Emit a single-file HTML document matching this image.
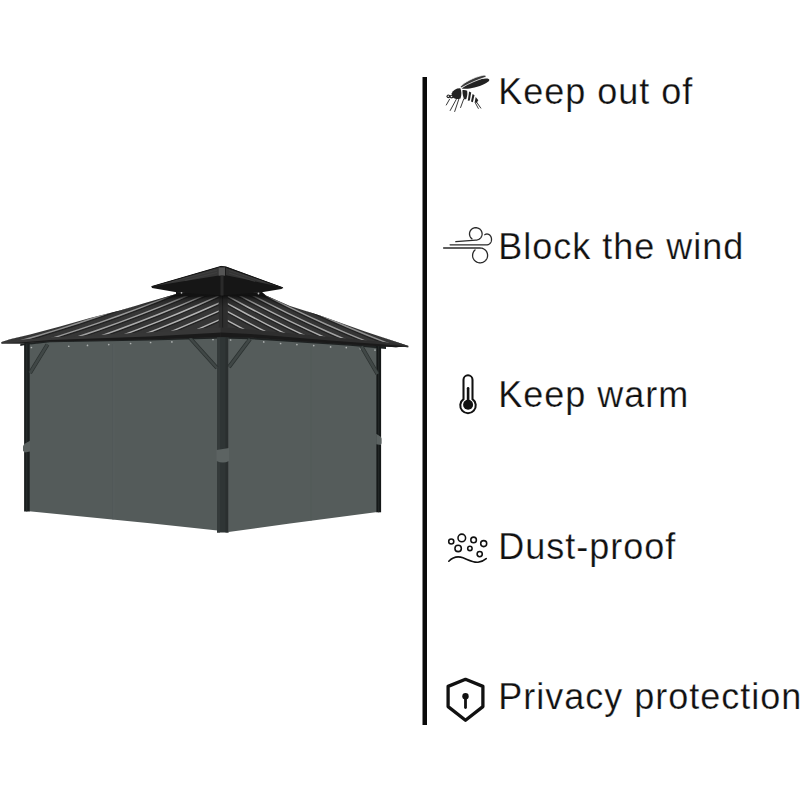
<!DOCTYPE html>
<html><head><meta charset="utf-8">
<style>
html,body{margin:0;padding:0;background:#fff;width:800px;height:800px;overflow:hidden}
.t{position:absolute;left:498.2px;font-family:"Liberation Sans",sans-serif;font-size:36px;line-height:41px;letter-spacing:1.0px;color:#111;white-space:nowrap;-webkit-text-stroke:0.25px #fff}
svg{position:absolute;left:0;top:0}
</style></head><body>
<svg width="800" height="800" viewBox="0 0 800 800">
<rect x="422.5" y="77" width="4.5" height="648" fill="#0a0a0a"/>
<polygon points="28.00,344.50 50.00,341.00 150.00,339.00 217.50,336.80 217.50,530.50 150.00,523.20 29.00,511.20" fill="#545b5a"/>
<polygon points="228.50,337.50 250.00,338.00 350.00,344.60 377.50,347.50 377.50,512.00 290.00,523.50 228.50,532.00" fill="#555c5b"/>
<line x1="112.8" y1="344" x2="112.8" y2="519.5" stroke="#505856" stroke-width="0.7"/>
<line x1="113.8" y1="344" x2="113.8" y2="519.5" stroke="#5a6260" stroke-width="0.6"/>
<line x1="311" y1="346" x2="311" y2="521" stroke="#535b59" stroke-width="0.6"/>
<circle cx="31.4" cy="347.5" r="0.85" fill="#aeb2b1"/>
<circle cx="68.75" cy="346.25" r="0.85" fill="#aeb2b1"/>
<circle cx="87.5" cy="345.4" r="0.85" fill="#aeb2b1"/>
<circle cx="108.75" cy="344.6" r="0.85" fill="#aeb2b1"/>
<circle cx="130.6" cy="343.5" r="0.85" fill="#aeb2b1"/>
<circle cx="150.6" cy="342.5" r="0.85" fill="#aeb2b1"/>
<circle cx="171.9" cy="341.9" r="0.85" fill="#aeb2b1"/>
<circle cx="192" cy="341" r="0.85" fill="#aeb2b1"/>
<circle cx="213" cy="339.6" r="0.85" fill="#aeb2b1"/>
<circle cx="230.6" cy="340" r="0.85" fill="#aeb2b1"/>
<circle cx="247" cy="341" r="0.85" fill="#aeb2b1"/>
<circle cx="263.75" cy="341.9" r="0.85" fill="#aeb2b1"/>
<circle cx="280.6" cy="343.5" r="0.85" fill="#aeb2b1"/>
<circle cx="296.9" cy="344.6" r="0.85" fill="#aeb2b1"/>
<circle cx="313.75" cy="345.6" r="0.85" fill="#aeb2b1"/>
<circle cx="330.6" cy="346.9" r="0.85" fill="#aeb2b1"/>
<circle cx="346.3" cy="347.6" r="0.85" fill="#aeb2b1"/>
<circle cx="360.4" cy="348.7" r="0.85" fill="#aeb2b1"/>
<circle cx="375" cy="350.1" r="0.85" fill="#aeb2b1"/>
<polygon points="20.30,343.60 50.00,340.50 150.00,337.50 221.50,336.00 250.00,337.00 350.00,343.50 386.00,346.00 386.00,349.00 350.00,345.80 250.00,339.20 221.50,338.60 150.00,340.50 50.00,342.30 24.00,345.30 20.30,345.90" fill="#1e2222"/>
<rect x="24.1" y="343.5" width="5.6" height="168" fill="#1b1f1f"/>
<rect x="26.3" y="343.5" width="1" height="168" fill="#2a2f2f"/>
<rect x="217" y="336" width="11.5" height="196.5" fill="#2f3535"/>
<rect x="217" y="336" width="3" height="196.5" fill="#343a3a"/>
<rect x="225.5" y="336" width="3" height="196.5" fill="#2a2f2f"/>
<rect x="376.4" y="346" width="4.7" height="166.3" fill="#151818"/>
<rect x="378.2" y="346" width="1" height="166.3" fill="#252a2a"/>
<polygon points="30.00,440.80 24.20,444.00 23.00,446.20 23.00,450.80 24.60,452.40 30.00,451.60" fill="#5b6261"/>
<path d="M216.5,450 L229,448 L229,461 Q223,464 216.5,461 Z" fill="#5c6362"/>
<polygon points="376.20,433.80 380.80,436.80 381.60,438.80 381.60,443.20 380.80,445.00 376.20,444.30" fill="#5b6261"/>
<line x1="47.5" y1="344.5" x2="30" y2="373" stroke="#2a302f" stroke-width="4.0" stroke-linecap="butt"/>
<line x1="47.5" y1="344.5" x2="30" y2="373" stroke="#404746" stroke-width="2.6" stroke-linecap="butt"/>
<line x1="190" y1="338" x2="217" y2="368" stroke="#2a302f" stroke-width="4.0" stroke-linecap="butt"/>
<line x1="190" y1="338" x2="217" y2="368" stroke="#404746" stroke-width="2.6" stroke-linecap="butt"/>
<line x1="250" y1="339" x2="229" y2="367" stroke="#2a302f" stroke-width="4.0" stroke-linecap="butt"/>
<line x1="250" y1="339" x2="229" y2="367" stroke="#404746" stroke-width="2.6" stroke-linecap="butt"/>
<line x1="361.5" y1="346.5" x2="377.5" y2="374" stroke="#2a302f" stroke-width="4.0" stroke-linecap="butt"/>
<line x1="361.5" y1="346.5" x2="377.5" y2="374" stroke="#404746" stroke-width="2.6" stroke-linecap="butt"/>
<defs>
<clipPath id="cL"><polygon points="1.50,342.00 10.00,339.20 30.00,334.50 60.00,326.50 90.00,318.00 120.00,310.50 145.00,303.00 178.00,293.50 221.50,293.00 221.50,327.00 150.00,332.50 50.00,337.50 20.00,340.00 1.50,342.00"/></clipPath>
<clipPath id="cR"><polygon points="221.50,293.00 260.00,293.00 290.00,306.00 320.00,315.50 365.00,331.50 408.60,346.10 408.20,345.90 382.90,341.90 330.00,337.00 250.00,329.50 221.50,327.00"/></clipPath>
<linearGradient id="gL" x1="0" y1="0" x2="0" y2="1"><stop offset="0" stop-color="#3a3a3a"/><stop offset="1" stop-color="#333"/></linearGradient>
</defs>
<polygon points="1.50,342.00 10.00,339.20 30.00,334.50 60.00,326.50 90.00,318.00 120.00,310.50 145.00,303.00 178.00,293.50 221.50,293.00 222.50,293.00 222.50,330.00 221.50,328.50 150.00,334.00 50.00,339.00 20.00,341.50 1.50,343.50" fill="#363636"/>
<polygon points="220.50,293.00 221.50,293.00 260.00,293.00 290.00,306.00 320.00,315.50 365.00,331.50 408.60,346.10 408.20,347.40 382.90,343.40 330.00,338.50 250.00,331.00 221.50,328.50 220.50,330.00" fill="#353535"/>
<clipPath id="cL2"><polygon points="1.50,342.00 10.00,339.20 30.00,334.50 60.00,326.50 90.00,318.00 120.00,310.50 145.00,303.00 178.00,293.50 218.80,293.00 218.80,327.20 150.00,332.50 50.00,337.50 20.00,340.00 1.50,342.00"/></clipPath>
<clipPath id="cR2"><polygon points="227.60,293.00 260.00,293.00 290.00,306.00 320.00,315.50 365.00,331.50 408.60,346.10 408.20,345.90 382.90,341.90 330.00,337.00 250.00,329.50 227.60,327.30"/></clipPath>
<g clip-path="url(#cL2)">
<path d="M221.80,318.75 L218.80,320.10 L198.80,328.93 L178.80,337.41 L158.80,345.55 L138.80,353.35 L118.80,360.80 L98.80,367.91 L78.80,374.67 L58.80,381.09 L38.80,387.17 L18.80,392.90 L-1.20,398.29 L-21.20,403.33" fill="none" stroke="#222" stroke-width="1.5" transform="translate(0,1.45)"/>
<path d="M221.80,318.75 L218.80,320.10 L198.80,328.93 L178.80,337.41 L158.80,345.55 L138.80,353.35 L118.80,360.80 L98.80,367.91 L78.80,374.67 L58.80,381.09 L38.80,387.17 L18.80,392.90 L-1.20,398.29 L-21.20,403.33" fill="none" stroke="#b2b2b2" stroke-width="1.45"/>
<path d="M221.80,309.75 L218.80,311.10 L198.80,319.93 L178.80,328.41 L158.80,336.55 L138.80,344.35 L118.80,351.80 L98.80,358.91 L78.80,365.67 L58.80,372.09 L38.80,378.17 L18.80,383.90 L-1.20,389.29 L-21.20,394.33" fill="none" stroke="#222" stroke-width="1.5" transform="translate(0,1.45)"/>
<path d="M221.80,309.75 L218.80,311.10 L198.80,319.93 L178.80,328.41 L158.80,336.55 L138.80,344.35 L118.80,351.80 L98.80,358.91 L78.80,365.67 L58.80,372.09 L38.80,378.17 L18.80,383.90 L-1.20,389.29 L-21.20,394.33" fill="none" stroke="#b2b2b2" stroke-width="1.45"/>
<path d="M221.80,301.85 L218.80,303.20 L198.80,312.03 L178.80,320.51 L158.80,328.65 L138.80,336.45 L118.80,343.90 L98.80,351.01 L78.80,357.77 L58.80,364.19 L38.80,370.27 L18.80,376.00 L-1.20,381.39 L-21.20,386.43" fill="none" stroke="#222" stroke-width="1.5" transform="translate(0,1.45)"/>
<path d="M221.80,301.85 L218.80,303.20 L198.80,312.03 L178.80,320.51 L158.80,328.65 L138.80,336.45 L118.80,343.90 L98.80,351.01 L78.80,357.77 L58.80,364.19 L38.80,370.27 L18.80,376.00 L-1.20,381.39 L-21.20,386.43" fill="none" stroke="#b2b2b2" stroke-width="1.45"/>
<path d="M221.80,294.55 L218.80,295.90 L198.80,304.73 L178.80,313.21 L158.80,321.35 L138.80,329.15 L118.80,336.60 L98.80,343.71 L78.80,350.47 L58.80,356.89 L38.80,362.97 L18.80,368.70 L-1.20,374.09 L-21.20,379.13" fill="none" stroke="#222" stroke-width="1.5" transform="translate(0,1.45)"/>
<path d="M221.80,294.55 L218.80,295.90 L198.80,304.73 L178.80,313.21 L158.80,321.35 L138.80,329.15 L118.80,336.60 L98.80,343.71 L78.80,350.47 L58.80,356.89 L38.80,362.97 L18.80,368.70 L-1.20,374.09 L-21.20,379.13" fill="none" stroke="#b2b2b2" stroke-width="1.45"/>
<path d="M221.80,287.45 L218.80,288.80 L198.80,297.63 L178.80,306.11 L158.80,314.25 L138.80,322.05 L118.80,329.50 L98.80,336.61 L78.80,343.37 L58.80,349.79 L38.80,355.87 L18.80,361.60 L-1.20,366.99 L-21.20,372.03" fill="none" stroke="#222" stroke-width="1.5" transform="translate(0,1.45)"/>
<path d="M221.80,287.45 L218.80,288.80 L198.80,297.63 L178.80,306.11 L158.80,314.25 L138.80,322.05 L118.80,329.50 L98.80,336.61 L78.80,343.37 L58.80,349.79 L38.80,355.87 L18.80,361.60 L-1.20,366.99 L-21.20,372.03" fill="none" stroke="#aaaaaa" stroke-width="1.45"/>
<path d="M221.80,280.55 L218.80,281.90 L198.80,290.73 L178.80,299.21 L158.80,307.35 L138.80,315.15 L118.80,322.60 L98.80,329.71 L78.80,336.47 L58.80,342.89 L38.80,348.97 L18.80,354.70 L-1.20,360.09 L-21.20,365.13" fill="none" stroke="#222" stroke-width="1.5" transform="translate(0,1.45)"/>
<path d="M221.80,280.55 L218.80,281.90 L198.80,290.73 L178.80,299.21 L158.80,307.35 L138.80,315.15 L118.80,322.60 L98.80,329.71 L78.80,336.47 L58.80,342.89 L38.80,348.97 L18.80,354.70 L-1.20,360.09 L-21.20,365.13" fill="none" stroke="#a1a1a1" stroke-width="1.45"/>
<path d="M221.80,273.75 L218.80,275.10 L198.80,283.93 L178.80,292.41 L158.80,300.55 L138.80,308.35 L118.80,315.80 L98.80,322.91 L78.80,329.67 L58.80,336.09 L38.80,342.17 L18.80,347.90 L-1.20,353.29 L-21.20,358.33" fill="none" stroke="#222" stroke-width="1.5" transform="translate(0,1.45)"/>
<path d="M221.80,273.75 L218.80,275.10 L198.80,283.93 L178.80,292.41 L158.80,300.55 L138.80,308.35 L118.80,315.80 L98.80,322.91 L78.80,329.67 L58.80,336.09 L38.80,342.17 L18.80,347.90 L-1.20,353.29 L-21.20,358.33" fill="none" stroke="#989898" stroke-width="1.45"/>
<path d="M221.80,267.05 L218.80,268.40 L198.80,277.23 L178.80,285.71 L158.80,293.85 L138.80,301.65 L118.80,309.10 L98.80,316.21 L78.80,322.97 L58.80,329.39 L38.80,335.47 L18.80,341.20 L-1.20,346.59 L-21.20,351.63" fill="none" stroke="#222" stroke-width="1.5" transform="translate(0,1.45)"/>
<path d="M221.80,267.05 L218.80,268.40 L198.80,277.23 L178.80,285.71 L158.80,293.85 L138.80,301.65 L118.80,309.10 L98.80,316.21 L78.80,322.97 L58.80,329.39 L38.80,335.47 L18.80,341.20 L-1.20,346.59 L-21.20,351.63" fill="none" stroke="#8f8f8f" stroke-width="1.45"/>
<path d="M221.80,260.45 L218.80,261.80 L198.80,270.63 L178.80,279.11 L158.80,287.25 L138.80,295.05 L118.80,302.50 L98.80,309.61 L78.80,316.37 L58.80,322.79 L38.80,328.87 L18.80,334.60 L-1.20,339.99 L-21.20,345.03" fill="none" stroke="#222" stroke-width="1.5" transform="translate(0,1.45)"/>
<path d="M221.80,260.45 L218.80,261.80 L198.80,270.63 L178.80,279.11 L158.80,287.25 L138.80,295.05 L118.80,302.50 L98.80,309.61 L78.80,316.37 L58.80,322.79 L38.80,328.87 L18.80,334.60 L-1.20,339.99 L-21.20,345.03" fill="none" stroke="#868686" stroke-width="1.45"/>
<path d="M221.80,253.95 L218.80,255.30 L198.80,264.13 L178.80,272.61 L158.80,280.75 L138.80,288.55 L118.80,296.00 L98.80,303.11 L78.80,309.87 L58.80,316.29 L38.80,322.37 L18.80,328.10 L-1.20,333.49 L-21.20,338.53" fill="none" stroke="#222" stroke-width="1.5" transform="translate(0,1.45)"/>
<path d="M221.80,253.95 L218.80,255.30 L198.80,264.13 L178.80,272.61 L158.80,280.75 L138.80,288.55 L118.80,296.00 L98.80,303.11 L78.80,309.87 L58.80,316.29 L38.80,322.37 L18.80,328.10 L-1.20,333.49 L-21.20,338.53" fill="none" stroke="#7d7d7d" stroke-width="1.45"/>
</g>
<g clip-path="url(#cR2)">
<path d="M224.60,318.95 L227.60,320.60 L247.60,331.39 L267.60,341.76 L287.60,351.72 L307.60,361.25 L327.60,370.37 L347.60,379.07 L367.60,387.35 L387.60,395.21 L407.60,402.65 L427.60,409.68 L447.60,416.29 L467.60,422.48" fill="none" stroke="#222" stroke-width="1.5" transform="translate(0,1.45)"/>
<path d="M224.60,318.95 L227.60,320.60 L247.60,331.39 L267.60,341.76 L287.60,351.72 L307.60,361.25 L327.60,370.37 L347.60,379.07 L367.60,387.35 L387.60,395.21 L407.60,402.65 L427.60,409.68 L447.60,416.29 L467.60,422.48" fill="none" stroke="#b2b2b2" stroke-width="1.45"/>
<path d="M224.60,309.95 L227.60,311.60 L247.60,322.39 L267.60,332.76 L287.60,342.72 L307.60,352.25 L327.60,361.37 L347.60,370.07 L367.60,378.35 L387.60,386.21 L407.60,393.65 L427.60,400.68 L447.60,407.29 L467.60,413.48" fill="none" stroke="#222" stroke-width="1.5" transform="translate(0,1.45)"/>
<path d="M224.60,309.95 L227.60,311.60 L247.60,322.39 L267.60,332.76 L287.60,342.72 L307.60,352.25 L327.60,361.37 L347.60,370.07 L367.60,378.35 L387.60,386.21 L407.60,393.65 L427.60,400.68 L447.60,407.29 L467.60,413.48" fill="none" stroke="#b2b2b2" stroke-width="1.45"/>
<path d="M224.60,302.05 L227.60,303.70 L247.60,314.49 L267.60,324.86 L287.60,334.82 L307.60,344.35 L327.60,353.47 L347.60,362.17 L367.60,370.45 L387.60,378.31 L407.60,385.75 L427.60,392.78 L447.60,399.39 L467.60,405.58" fill="none" stroke="#222" stroke-width="1.5" transform="translate(0,1.45)"/>
<path d="M224.60,302.05 L227.60,303.70 L247.60,314.49 L267.60,324.86 L287.60,334.82 L307.60,344.35 L327.60,353.47 L347.60,362.17 L367.60,370.45 L387.60,378.31 L407.60,385.75 L427.60,392.78 L447.60,399.39 L467.60,405.58" fill="none" stroke="#b2b2b2" stroke-width="1.45"/>
<path d="M224.60,294.55 L227.60,296.20 L247.60,306.99 L267.60,317.36 L287.60,327.32 L307.60,336.85 L327.60,345.97 L347.60,354.67 L367.60,362.95 L387.60,370.81 L407.60,378.25 L427.60,385.28 L447.60,391.89 L467.60,398.08" fill="none" stroke="#222" stroke-width="1.5" transform="translate(0,1.45)"/>
<path d="M224.60,294.55 L227.60,296.20 L247.60,306.99 L267.60,317.36 L287.60,327.32 L307.60,336.85 L327.60,345.97 L347.60,354.67 L367.60,362.95 L387.60,370.81 L407.60,378.25 L427.60,385.28 L447.60,391.89 L467.60,398.08" fill="none" stroke="#b2b2b2" stroke-width="1.45"/>
<path d="M224.60,287.35 L227.60,289.00 L247.60,299.79 L267.60,310.16 L287.60,320.12 L307.60,329.65 L327.60,338.77 L347.60,347.47 L367.60,355.75 L387.60,363.61 L407.60,371.05 L427.60,378.08 L447.60,384.69 L467.60,390.88" fill="none" stroke="#222" stroke-width="1.5" transform="translate(0,1.45)"/>
<path d="M224.60,287.35 L227.60,289.00 L247.60,299.79 L267.60,310.16 L287.60,320.12 L307.60,329.65 L327.60,338.77 L347.60,347.47 L367.60,355.75 L387.60,363.61 L407.60,371.05 L427.60,378.08 L447.60,384.69 L467.60,390.88" fill="none" stroke="#aaaaaa" stroke-width="1.45"/>
<path d="M224.60,280.35 L227.60,282.00 L247.60,292.79 L267.60,303.16 L287.60,313.12 L307.60,322.65 L327.60,331.77 L347.60,340.47 L367.60,348.75 L387.60,356.61 L407.60,364.05 L427.60,371.08 L447.60,377.69 L467.60,383.88" fill="none" stroke="#222" stroke-width="1.5" transform="translate(0,1.45)"/>
<path d="M224.60,280.35 L227.60,282.00 L247.60,292.79 L267.60,303.16 L287.60,313.12 L307.60,322.65 L327.60,331.77 L347.60,340.47 L367.60,348.75 L387.60,356.61 L407.60,364.05 L427.60,371.08 L447.60,377.69 L467.60,383.88" fill="none" stroke="#a1a1a1" stroke-width="1.45"/>
<path d="M224.60,273.55 L227.60,275.20 L247.60,285.99 L267.60,296.36 L287.60,306.32 L307.60,315.85 L327.60,324.97 L347.60,333.67 L367.60,341.95 L387.60,349.81 L407.60,357.25 L427.60,364.28 L447.60,370.89 L467.60,377.08" fill="none" stroke="#222" stroke-width="1.5" transform="translate(0,1.45)"/>
<path d="M224.60,273.55 L227.60,275.20 L247.60,285.99 L267.60,296.36 L287.60,306.32 L307.60,315.85 L327.60,324.97 L347.60,333.67 L367.60,341.95 L387.60,349.81 L407.60,357.25 L427.60,364.28 L447.60,370.89 L467.60,377.08" fill="none" stroke="#989898" stroke-width="1.45"/>
<path d="M224.60,266.85 L227.60,268.50 L247.60,279.29 L267.60,289.66 L287.60,299.62 L307.60,309.15 L327.60,318.27 L347.60,326.97 L367.60,335.25 L387.60,343.11 L407.60,350.55 L427.60,357.58 L447.60,364.19 L467.60,370.38" fill="none" stroke="#222" stroke-width="1.5" transform="translate(0,1.45)"/>
<path d="M224.60,266.85 L227.60,268.50 L247.60,279.29 L267.60,289.66 L287.60,299.62 L307.60,309.15 L327.60,318.27 L347.60,326.97 L367.60,335.25 L387.60,343.11 L407.60,350.55 L427.60,357.58 L447.60,364.19 L467.60,370.38" fill="none" stroke="#8f8f8f" stroke-width="1.45"/>
<path d="M224.60,260.35 L227.60,262.00 L247.60,272.79 L267.60,283.16 L287.60,293.12 L307.60,302.65 L327.60,311.77 L347.60,320.47 L367.60,328.75 L387.60,336.61 L407.60,344.05 L427.60,351.08 L447.60,357.69 L467.60,363.88" fill="none" stroke="#222" stroke-width="1.5" transform="translate(0,1.45)"/>
<path d="M224.60,260.35 L227.60,262.00 L247.60,272.79 L267.60,283.16 L287.60,293.12 L307.60,302.65 L327.60,311.77 L347.60,320.47 L367.60,328.75 L387.60,336.61 L407.60,344.05 L427.60,351.08 L447.60,357.69 L467.60,363.88" fill="none" stroke="#868686" stroke-width="1.45"/>
<path d="M224.60,253.95 L227.60,255.60 L247.60,266.39 L267.60,276.76 L287.60,286.72 L307.60,296.25 L327.60,305.37 L347.60,314.07 L367.60,322.35 L387.60,330.21 L407.60,337.65 L427.60,344.68 L447.60,351.29 L467.60,357.48" fill="none" stroke="#222" stroke-width="1.5" transform="translate(0,1.45)"/>
<path d="M224.60,253.95 L227.60,255.60 L247.60,266.39 L267.60,276.76 L287.60,286.72 L307.60,296.25 L327.60,305.37 L347.60,314.07 L367.60,322.35 L387.60,330.21 L407.60,337.65 L427.60,344.68 L447.60,351.29 L467.60,357.48" fill="none" stroke="#7d7d7d" stroke-width="1.45"/>
<path d="M224.60,247.65 L227.60,249.30 L247.60,260.09 L267.60,270.46 L287.60,280.42 L307.60,289.95 L327.60,299.07 L347.60,307.77 L367.60,316.05 L387.60,323.91 L407.60,331.35 L427.60,338.38 L447.60,344.99 L467.60,351.18" fill="none" stroke="#222" stroke-width="1.5" transform="translate(0,1.45)"/>
<path d="M224.60,247.65 L227.60,249.30 L247.60,260.09 L267.60,270.46 L287.60,280.42 L307.60,289.95 L327.60,299.07 L347.60,307.77 L367.60,316.05 L387.60,323.91 L407.60,331.35 L427.60,338.38 L447.60,344.99 L467.60,351.18" fill="none" stroke="#747474" stroke-width="1.45"/>
</g>
<polygon points="1.50,342.00 20.00,340.00 50.00,337.50 150.00,332.50 222.30,327.00 222.30,337.00 150.00,339.50 50.00,341.50 20.00,343.50 1.50,343.60" fill="#373737"/>
<polygon points="1.50,343.20 20.00,342.50 50.00,340.00 150.00,336.50 222.30,332.50 222.30,337.00 150.00,339.50 50.00,341.50 20.00,343.50 1.50,343.60" fill="#1a1a1a"/>
<polygon points="220.70,327.00 250.00,329.50 330.00,337.00 382.90,341.90 408.20,345.90 396.00,347.20 384.00,346.60 330.00,343.20 250.00,337.50 220.70,337.00" fill="#2e2e2e"/>
<polygon points="220.70,332.50 250.00,334.00 330.00,340.50 384.00,344.50 408.20,346.20 396.00,347.20 384.00,346.60 330.00,343.20 250.00,337.50 220.70,337.00" fill="#1a1a1a"/>
<rect x="218.8" y="292" width="8.8" height="35.5" fill="#2e2e2e"/>
<rect x="222" y="292" width="1.1" height="35.5" fill="#1f1f1f"/>
<defs><linearGradient id="shd" x1="0" y1="292" x2="0" y2="308" gradientUnits="userSpaceOnUse"><stop offset="0" stop-color="#0a0a0a" stop-opacity="1"/><stop offset="0.2" stop-color="#0a0a0a" stop-opacity="0.9"/><stop offset="0.5" stop-color="#0a0a0a" stop-opacity="0.3"/><stop offset="1" stop-color="#0a0a0a" stop-opacity="0"/></linearGradient>
<clipPath id="cAll"><polygon points="1.50,342.00 10.00,339.20 30.00,334.50 60.00,326.50 90.00,318.00 120.00,310.50 145.00,303.00 178.00,293.50 221.50,293.00 221.50,327.00 150.00,332.50 50.00,337.50 20.00,340.00 1.50,342.00"/><polygon points="221.50,293.00 260.00,293.00 290.00,306.00 320.00,315.50 365.00,331.50 408.60,346.10 408.20,345.90 382.90,341.90 330.00,337.00 250.00,329.50 221.50,327.00"/><rect x="218" y="290" width="10" height="40"/></clipPath></defs>
<rect x="140" y="288" width="160" height="28" fill="url(#shd)" clip-path="url(#cAll)"/>
<polygon points="176.00,292.00 221.50,294.00 262.00,292.00 266.00,295.50 230.00,296.00 221.50,295.50 200.00,296.50 176.00,295.50" fill="#121212"/>
<polygon points="151.50,286.50 221.00,266.20 226.00,266.80 283.10,287.80 281.50,289.00 260.30,292.50 221.50,295.50 178.00,292.50 152.00,288.00" fill="#161616"/>
<polygon points="152.50,286.30 219.00,267.20 219.00,275.50" fill="#363636"/>
<polygon points="226.00,267.80 282.50,287.30 226.00,275.20" fill="#333"/>
<line x1="217" y1="270" x2="172" y2="281.5" stroke="#454545" stroke-width="0.6"/>
<line x1="217" y1="272.5" x2="185" y2="280.5" stroke="#454545" stroke-width="0.6"/>
<line x1="229" y1="270.5" x2="265" y2="282.5" stroke="#454545" stroke-width="0.6"/>
<line x1="229" y1="273" x2="255" y2="281.5" stroke="#454545" stroke-width="0.6"/>
<polyline points="151.50,286.60 221.00,266.40 226.00,267.00 283.10,287.90" fill="none" stroke="#141414" stroke-width="1"/>
<rect x="218.7" y="267.4" width="6.4" height="8.3" fill="#555"/>
<rect x="220.5" y="275.5" width="3" height="20" fill="#2a2a2a"/>
<circle cx="181.5" cy="292.8" r="0.9" fill="#bbb"/>
<circle cx="258.5" cy="293.5" r="0.9" fill="#bbb"/>
<g fill="#222">
<path d="M461.6,88.4 C465.5,84.8 473.5,80.6 481.5,78.9 C486.5,77.9 489.8,78.4 489.3,80.3 C488.5,82.6 482,85.8 474.5,87.6 C469.5,88.8 465,89.2 461.6,88.4 Z"/>
<path d="M460.2,86.8 C464.5,82.2 473,77.6 483,75.3 C486,74.7 487,76.3 485.2,77.3 C478.5,79.6 469.5,83 461.5,87.8 Z" fill="#3a3a3a" stroke="#fff" stroke-width="0.7"/>
<path d="M451.6,93.6 C453,90.2 456.2,88.2 460.3,88.3 C461.6,91 461.8,95 460.5,98.4 C457.8,99.5 454.8,99.3 452.5,97.3 Z"/>
<path d="M462.4,90.2 C464,89.9 466,90.2 467.2,90.8 C467.6,93.6 467.2,96.6 466.3,99 L464.5,99.6 C463.2,98 462.5,94.2 462.4,90.2 Z"/>
<polygon points="469.10,91.60 471.20,92.50 469.80,100.60 467.80,100.80"/>
<polygon points="472.60,94.00 474.50,95.30 472.80,102.20 471.00,101.50"/>
<polygon points="475.70,97.00 478.30,100.30 476.60,102.90 474.70,102.30"/>
</g>
<g stroke="#222" stroke-width="0.9" fill="none" stroke-linecap="round">
<line x1="449.6" y1="99.2" x2="446.3" y2="105"/>
<line x1="456.25" y1="99.4" x2="450.2" y2="110.5"/>
<line x1="458.75" y1="99.4" x2="454.7" y2="111.5"/>
<line x1="463.75" y1="98.9" x2="460.6" y2="107.5"/>
<line x1="476.9" y1="102.5" x2="480.8" y2="108.1"/>
<line x1="475.2" y1="102.6" x2="478.3" y2="108.4"/>
</g>
<circle cx="448.4" cy="96.3" r="1.85" fill="#222"/>
<circle cx="451.6" cy="96.6" r="1.85" fill="#222"/>
<circle cx="448.3" cy="96.2" r="0.8" fill="#eee"/>
<circle cx="451.5" cy="96.5" r="0.8" fill="#eee"/>
<g stroke="#2a2a2a" stroke-width="1.3" fill="none" stroke-linecap="round" stroke-linejoin="round">
<path d="M455.80,241.70 L475.80,240.10 L476.54,240.06 L477.26,239.93 L477.97,239.72 L478.64,239.43 L479.28,239.07 L479.87,238.63 L480.40,238.13 L480.88,237.57 L481.28,236.96 L481.60,236.31 L481.85,235.63 L482.01,234.92 L482.09,234.20 L482.09,233.48 L481.99,232.76 L481.81,232.05 L481.55,231.37 L481.21,230.73 L480.80,230.13 L480.32,229.58 L479.78,229.09 L479.18,228.67 L478.53,228.31 L477.85,228.04 L477.14,227.84 L476.41,227.73 L475.68,227.70 L474.94,227.76 L474.22,227.90 L473.52,228.12 L472.85,228.42 L472.22,228.80 L471.64,229.25 L471.11,229.76 L470.65,230.33 L470.26,230.94 L469.95,231.60 L469.72,232.29 L469.57,233.00 L469.50,233.72 L469.52,234.44 L469.63,235.16 L469.82,235.86 L470.10,236.54 L470.45,237.17 L470.88,237.77 L471.37,238.31 L471.92,238.79"/>
<path d="M450.10,244.80 L487.00,244.80 L487.34,244.78 L487.68,244.74 L488.02,244.66 L488.35,244.55 L488.68,244.41 L488.99,244.24 L489.29,244.05 L489.58,243.82 L489.85,243.57 L490.11,243.30 L490.35,243.00 L490.57,242.69 L490.77,242.35 L490.95,242.00 L491.10,241.63 L491.23,241.25 L491.33,240.85 L491.41,240.45 L491.47,240.05 L491.50,239.64 L491.50,239.22 L491.47,238.81 L491.42,238.40 L491.35,238.00 L491.25,237.61 L491.12,237.23 L490.97,236.85 L490.80,236.50 L490.60,236.16 L490.38,235.84 L490.15,235.54 L489.89,235.26 L489.62,235.01 L489.33,234.78 L489.03,234.58 L488.72,234.41 L488.40,234.27 L488.07,234.15 L487.73,234.07 L487.39,234.02 L487.05,234.00 L486.71,234.01 L486.36,234.05 L486.03,234.13 L485.69,234.23 L485.37,234.37 L485.05,234.53 L484.75,234.72"/>
<path d="M443.60,248.00 L480.10,248.00 L480.97,248.05 L481.82,248.20 L482.65,248.44 L483.45,248.78 L484.20,249.20 L484.90,249.71 L485.53,250.29 L486.09,250.95 L486.57,251.66 L486.96,252.42 L487.27,253.22 L487.47,254.05 L487.58,254.90 L487.59,255.76 L487.50,256.61 L487.31,257.44 L487.02,258.25 L486.64,259.02 L486.18,259.74 L485.63,260.40 L485.01,261.00 L484.32,261.52 L483.58,261.96 L482.79,262.31 L481.96,262.57 L481.11,262.73 L480.25,262.80 L479.38,262.77 L478.52,262.63 L477.69,262.41 L476.89,262.09 L476.13,261.68 L475.42,261.18 L474.77,260.61 L474.20,259.97 L473.71,259.27 L473.30,258.51 L472.98,257.72 L472.75,256.89 L472.63,256.04 L472.60,255.19 L472.68,254.34 L472.85,253.50 L473.12,252.69 L473.49,251.91 L473.94,251.18 L474.47,250.51 L475.08,249.90"/>
</g>
<path d="M463.5,399.2 L463.5,379.8 A4.5,4.5 0 0 1 472.5,379.8 L472.5,399.2 A7.75,7.75 0 1 1 463.5,399.2 Z" fill="none" stroke="#111" stroke-width="2.05"/>
<line x1="468.1" y1="388.3" x2="468.1" y2="402" stroke="#111" stroke-width="2.6" stroke-linecap="round"/>
<circle cx="468.1" cy="404.7" r="5.0" fill="#111"/>
<g stroke="#111" stroke-width="1.55" fill="none" stroke-linecap="round">
<circle cx="451.25" cy="541.5" r="2.55"/>
<circle cx="461.8" cy="537.9" r="3.8"/>
<circle cx="473.6" cy="539.9" r="2.8"/>
<circle cx="483.7" cy="543.6" r="3.0"/>
<circle cx="458.15" cy="548.4" r="3.2"/>
<circle cx="469.9" cy="548.4" r="2.2"/>
<circle cx="479.7" cy="554.1" r="2.6"/>
<path d="M448.8,561.2 C453,557 458,556 463,557.8 C468,559.6 472,562.6 478,562.2 C481.5,562 484,560.5 486.2,558.6" stroke-width="1.6"/>
</g>
<polygon points="465.50,679.30 482.90,686.40 482.90,706.60 465.50,720.30 448.10,706.60 448.10,686.40" fill="none" stroke="#111" stroke-width="3.3" stroke-linejoin="round"/>
<circle cx="465.5" cy="696.2" r="3.2" fill="#111"/>
<line x1="465.5" y1="697" x2="465.5" y2="707.6" stroke="#111" stroke-width="2.8" stroke-linecap="round"/>
</svg>
<div class="t" style="top:71.3px">Keep out of</div>
<div class="t" style="top:226.2px">Block the wind</div>
<div class="t" style="top:374.3px">Keep warm</div>
<div class="t" style="top:525.8px">Dust-proof</div>
<div class="t" style="top:676.1px">Privacy protection</div>
</body></html>
